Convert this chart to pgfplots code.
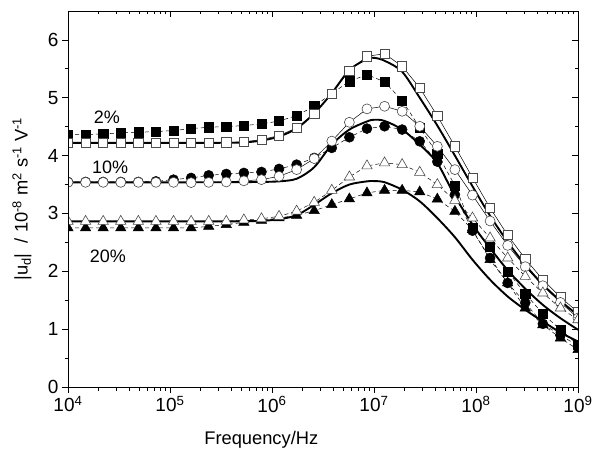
\documentclass[border=0pt]{standalone}
\usepackage{pgfplots}
\usepackage{pgfplotstable}
\pgfplotsset{compat=1.18}
\usepackage{fontspec}
\setmainfont{Liberation Sans}

\pgfplotstableread{
x      sf    os    fc    oc    ft    ot
4.0000 4.363 4.220 3.545 3.538 2.749 2.863
4.1724 4.363 4.220 3.545 3.538 2.749 2.863
4.3448 4.375 4.220 3.545 3.538 2.749 2.863
4.5172 4.393 4.220 3.545 3.538 2.749 2.863
4.6897 4.403 4.220 3.545 3.538 2.749 2.863
4.8621 4.415 4.220 3.555 3.538 2.749 2.863
5.0345 4.433 4.225 3.585 3.538 2.749 2.863
5.2069 4.467 4.225 3.614 3.533 2.749 2.863
5.3793 4.490 4.225 3.659 3.538 2.777 2.863
5.5517 4.502 4.230 3.683 3.545 2.806 2.863
5.7241 4.519 4.237 3.701 3.564 2.846 2.888
5.8966 4.548 4.277 3.718 3.585 2.881 2.908
6.0690 4.597 4.346 3.770 3.642 2.922 2.950
6.2414 4.692 4.479 3.844 3.758 2.967 3.040
6.4138 4.853 4.727 3.960 3.948 3.048 3.192
6.5862 5.073 5.073 4.133 4.251 3.152 3.400
6.7586 5.285 5.471 4.317 4.576 3.251 3.631
6.9310 5.401 5.718 4.467 4.808 3.355 3.822
7.1034 5.275 5.760 4.507 4.853 3.400 3.874
7.2759 4.952 5.545 4.450 4.766 3.400 3.844
7.4483 4.484 5.171 4.247 4.507 3.372 3.711
7.6207 4.035 4.687 3.896 4.161 3.247 3.498
7.7931 3.481 4.161 3.325 3.758 3.036 3.225
7.9655 2.754 3.619 2.702 3.317 2.720 2.922
8.1379 2.431 3.095 2.230 2.870 2.201 2.576
8.3103 1.998 2.625 1.798 2.448 1.798 2.230
8.4828 1.612 2.215 1.457 2.080 1.365 1.912
8.6552 1.266 1.855 1.093 1.751 1.076 1.625
8.8276 0.990 1.552 0.894 1.462 0.846 1.365
9.0000 0.730 1.292 0.713 1.192 0.644 1.163
}\meas

\pgfplotstableread{
x      ca    cb    cc
4.0000 4.220 3.538 2.863
4.5172 4.220 3.538 2.863
5.0345 4.220 3.538 2.863
5.5517 4.222 3.540 2.863
5.7241 4.228 3.542 2.866
5.8966 4.260 3.545 2.872
6.0690 4.330 3.555 2.900
6.2414 4.470 3.600 2.970
6.4138 4.730 3.800 3.150
6.5862 5.080 4.190 3.350
6.7586 5.480 4.450 3.500
6.9310 5.670 4.590 3.555
7.0000 5.690 4.620 3.560
7.1034 5.640 4.600 3.540
7.2759 5.450 4.450 3.410
7.4483 5.000 4.190 3.210
7.6207 4.520 3.870 2.920
7.7931 4.000 3.300 2.590
7.9655 3.470 2.810 2.200
8.1379 2.960 2.400 1.855
8.3103 2.510 2.020 1.565
8.4828 2.110 1.700 1.335
8.6552 1.770 1.420 1.133
8.8276 1.490 1.190 0.943
9.0000 1.240 0.990 0.787
}\model

\pgfplotsset{
  myaxis/.style={
    width=510pt, height=376pt, scale only axis,
    xmin=4, xmax=9, ymin=0, ymax=6.5,
    xtick={4,5,6,7,8,9},
    minor xtick={4.301,4.477,4.602,4.699,4.778,4.845,4.903,4.954,
                 5.301,5.477,5.602,5.699,5.778,5.845,5.903,5.954,
                 6.301,6.477,6.602,6.699,6.778,6.845,6.903,6.954,
                 7.301,7.477,7.602,7.699,7.778,7.845,7.903,7.954,
                 8.301,8.477,8.602,8.699,8.778,8.845,8.903,8.954},
    ytick={0,1,2,3,4,5,6},
    minor ytick={0.5,1.5,2.5,3.5,4.5,5.5},
    major tick length=6pt, minor tick length=3.5pt,
    every tick/.style={black, line width=0.8pt},
    axis line style={line width=0.9pt},
    tick label style={font=\fontsize{19}{22}\selectfont},
    /pgf/number format/assume math mode=true,
    clip marker paths=true,
  }
}

\begin{document}
\begin{tikzpicture}
\begin{axis}[myaxis,
    tick align=outside, xtick pos=left, ytick pos=left,
    xticklabels={10\textsuperscript{4},10\textsuperscript{5},10\textsuperscript{6},10\textsuperscript{7},10\textsuperscript{8},10\textsuperscript{9}},
    xlabel={Frequency/Hz},
    label style={font=\fontsize{18.3}{21}\selectfont},
    xlabel style={at={(axis description cs:0.379,0)}, anchor=center, yshift=-53pt},
  ]
  \coordinate (sw) at (rel axis cs:0,0);
  \coordinate (ne) at (rel axis cs:1,1);
  \coordinate (ml) at (rel axis cs:0,0.5);
  % model curves
  \addplot[black, line width=1.9pt, smooth, tension=0.5, no marks] table[x=x, y=ca] {\model};
  \addplot[black, line width=1.9pt, smooth, tension=0.5, no marks] table[x=x, y=cb] {\model};
  \addplot[black, line width=1.9pt, smooth, tension=0.5, no marks] table[x=x, y=cc] {\model};
  % filled series
  \addplot[black, line width=0.5pt, dash pattern=on 4pt off 3pt, mark=square*, mark size=4.6pt, mark options={solid, fill=black, line width=0.5pt}] table[x=x, y=sf] {\meas};
  \addplot[black, line width=0.5pt, dash pattern=on 4pt off 3pt, mark=*, mark size=5pt, mark options={solid, fill=black, line width=0.5pt}] table[x=x, y=fc] {\meas};
  \addplot[black, line width=0.5pt, dash pattern=on 4pt off 3pt, mark=triangle*, mark size=6pt, mark options={solid, fill=black, line width=0.5pt}] table[x=x, y=ft] {\meas};
  % open series
  \addplot[black, line width=0.5pt, mark=square*, mark size=4.6pt, mark options={solid, fill=white, draw=black!70, line width=0.6pt}] table[x=x, y=os] {\meas};
  \addplot[black, line width=0.5pt, mark=*, mark size=5pt, mark options={solid, fill=white, draw=black!70, line width=0.6pt}] table[x=x, y=oc] {\meas};
  \addplot[black, line width=0.5pt, dash pattern=on 4pt off 3pt, mark=triangle*, mark size=6pt, mark options={solid, fill=white, draw=black!70, line width=0.6pt}] table[x=x, y=ot] {\meas};
  % labels
  \node[font=\fontsize{18}{21}\selectfont] at (axis cs:4.382,4.657) {2\%};
  \node[font=\fontsize{18}{21}\selectfont] at (axis cs:4.412,3.792) {10\%};
  \node[font=\fontsize{18}{21}\selectfont] at (axis cs:4.392,2.253) {20\%};
\end{axis}
\node[rotate=90, anchor=center, font=\fontsize{18.3}{21}\selectfont] at ([xshift=-46pt]ml) {|u\textsubscript{d}|~ / 10\textsuperscript{-8} m\textsuperscript{2} s\textsuperscript{-1} V\textsuperscript{-1}};
\begin{axis}[myaxis,
    tick align=inside, xtick pos=right, ytick pos=right,
    xticklabels={}, yticklabels={},
  ]
\end{axis}
\pgfresetboundingbox
\path ([xshift=-68pt,yshift=-67pt]sw) rectangle ([xshift=14pt,yshift=11pt]ne);
\end{tikzpicture}
\end{document}
